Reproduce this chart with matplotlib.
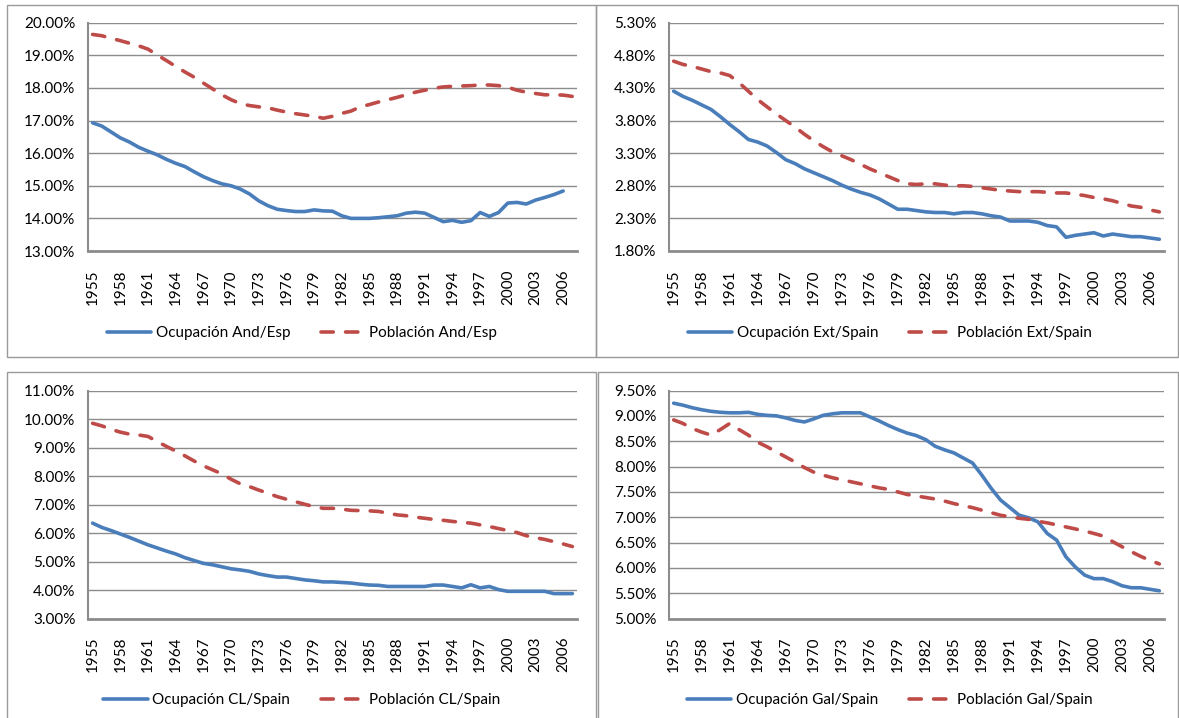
import numpy as np
import matplotlib.pyplot as plt
from matplotlib.patches import Rectangle
from matplotlib.ticker import FixedLocator, FuncFormatter

plt.rcParams['font.family'] = ['Lato', 'DejaVu Sans']

years = list(range(1955, 2008))

# Andalucía / España (%)
ocup_and = [16.93, 16.83, 16.65, 16.47, 16.34, 16.18, 16.06, 15.95, 15.81, 15.69,
            15.59, 15.43, 15.28, 15.16, 15.06, 15.00, 14.90, 14.75, 14.54, 14.39,
            14.28, 14.24, 14.21, 14.21, 14.26, 14.23, 14.22, 14.08, 14.00, 14.00,
            14.00, 14.02, 14.05, 14.08, 14.16, 14.19, 14.16, 14.03, 13.90, 13.94,
            13.88, 13.93, 14.18, 14.06, 14.18, 14.47, 14.49, 14.44, 14.56, 14.64,
            14.73, 14.84, np.nan]
pobl_and = [19.64, 19.60, 19.52, 19.45, 19.37, 19.29, 19.19, 19.01, 18.84, 18.66,
            18.49, 18.33, 18.15, 17.97, 17.79, 17.64, 17.52, 17.46, 17.42, 17.39,
            17.32, 17.26, 17.21, 17.17, 17.13, 17.07, 17.13, 17.22, 17.29, 17.42,
            17.49, 17.57, 17.64, 17.71, 17.79, 17.87, 17.93, 17.99, 18.03, 18.05,
            18.06, 18.07, 18.09, 18.09, 18.07, 18.02, 17.93, 17.87, 17.83, 17.79,
            17.79, 17.78, 17.74]

# Extremadura / Spain (%)
ocup_ext = [4.25, 4.17, 4.11, 4.04, 3.97, 3.86, 3.74, 3.63, 3.51, 3.47,
            3.41, 3.31, 3.20, 3.14, 3.06, 3.00, 2.94, 2.88, 2.81, 2.75,
            2.70, 2.66, 2.60, 2.52, 2.44, 2.44, 2.42, 2.40, 2.39, 2.39,
            2.37, 2.39, 2.39, 2.37, 2.34, 2.32, 2.26, 2.26, 2.26, 2.24,
            2.19, 2.17, 2.01, 2.04, 2.06, 2.08, 2.03, 2.06, 2.04, 2.02,
            2.02, 2.00, 1.98]
pobl_ext = [4.71, 4.66, 4.63, 4.59, 4.55, 4.53, 4.49, 4.38, 4.25, 4.12,
            4.01, 3.90, 3.80, 3.70, 3.59, 3.49, 3.40, 3.32, 3.26, 3.20,
            3.13, 3.06, 3.00, 2.94, 2.88, 2.83, 2.82, 2.83, 2.83, 2.81,
            2.80, 2.80, 2.79, 2.77, 2.75, 2.73, 2.72, 2.71, 2.71, 2.71,
            2.70, 2.69, 2.69, 2.67, 2.65, 2.62, 2.60, 2.57, 2.53, 2.49,
            2.47, 2.43, 2.40]

# Castilla y León / Spain (%)
ocup_cl = [6.35, 6.20, 6.09, 5.97, 5.85, 5.72, 5.59, 5.48, 5.37, 5.27,
           5.14, 5.04, 4.94, 4.89, 4.82, 4.75, 4.71, 4.66, 4.57, 4.51,
           4.46, 4.46, 4.41, 4.36, 4.33, 4.29, 4.29, 4.27, 4.25, 4.21,
           4.18, 4.17, 4.13, 4.13, 4.13, 4.13, 4.13, 4.18, 4.18, 4.13,
           4.08, 4.19, 4.08, 4.13, 4.02, 3.96, 3.96, 3.96, 3.96, 3.96,
           3.88, 3.88, 3.88]
pobl_cl = [9.85, 9.76, 9.64, 9.54, 9.47, 9.44, 9.39, 9.21, 9.04, 8.88,
           8.71, 8.53, 8.36, 8.22, 8.08, 7.89, 7.73, 7.63, 7.51, 7.40,
           7.28, 7.19, 7.10, 7.01, 6.93, 6.87, 6.87, 6.84, 6.80, 6.79,
           6.78, 6.76, 6.70, 6.64, 6.61, 6.56, 6.52, 6.48, 6.45, 6.41,
           6.38, 6.35, 6.29, 6.23, 6.16, 6.09, 6.02, 5.91, 5.84, 5.78,
           5.70, 5.62, 5.53]

# Galicia / Spain (%)
ocup_gal = [9.25, 9.21, 9.16, 9.12, 9.09, 9.07, 9.06, 9.06, 9.07, 9.03,
            9.01, 9.00, 8.96, 8.91, 8.88, 8.94, 9.01, 9.04, 9.06, 9.06,
            9.06, 8.98, 8.90, 8.81, 8.73, 8.66, 8.61, 8.53, 8.40, 8.33,
            8.27, 8.17, 8.07, 7.83, 7.57, 7.34, 7.19, 7.04, 6.99, 6.91,
            6.68, 6.55, 6.22, 6.02, 5.86, 5.79, 5.79, 5.73, 5.65, 5.61,
            5.61, 5.58, 5.55]
pobl_gal = [8.92, 8.85, 8.75, 8.68, 8.62, 8.73, 8.85, 8.73, 8.62, 8.48,
            8.39, 8.29, 8.19, 8.09, 7.98, 7.89, 7.83, 7.78, 7.74, 7.70,
            7.66, 7.62, 7.58, 7.55, 7.50, 7.45, 7.42, 7.39, 7.36, 7.32,
            7.27, 7.23, 7.19, 7.14, 7.09, 7.04, 7.01, 6.98, 6.96, 6.92,
            6.89, 6.85, 6.81, 6.77, 6.73, 6.68, 6.63, 6.52, 6.42, 6.32,
            6.23, 6.15, 6.08]

W, H = 1179, 718
BLUE = '#4A7EBB'
RED = '#BE4B48'
GRID = '#8C8C8C'

fig = plt.figure(figsize=(W / 100, H / 100), dpi=100)


def fig_rect(x0, y0, x1, y1):
    return [x0 / W, 1 - y1 / H, (x1 - x0) / W, (y1 - y0) / H]


# chart frames
for (x0, y0, x1, y1) in [(7, 5, 596, 357), (596, 5, 1178, 357),
                         (7, 372, 596, 725), (598, 372, 1178, 725)]:
    fig.add_artist(Rectangle((x0 / W, 1 - y1 / H), (x1 - x0) / W, (y1 - y0) / H,
                             transform=fig.transFigure, fill=False,
                             edgecolor='#9A9A9A', linewidth=1.0))

panels = [
    dict(area=(88, 22.7, 577, 251), ylim=(13, 20), step=1.0,
         occ=ocup_and, pop=pobl_and,
         labels=('Ocupación And/Esp', 'Población And/Esp'),
         legend=(302, 333)),
    dict(area=(669, 22.7, 1164, 251), ylim=(1.8, 5.3), step=0.5,
         occ=ocup_ext, pop=pobl_ext,
         labels=('Ocupación Ext/Spain', 'Población Ext/Spain'),
         legend=(890, 333)),
    dict(area=(88, 390.5, 577, 618.7), ylim=(3, 11), step=1.0,
         occ=ocup_cl, pop=pobl_cl,
         labels=('Ocupación CL/Spain', 'Población CL/Spain'),
         legend=(302, 700)),
    dict(area=(669, 390.5, 1164, 618.7), ylim=(5, 9.5), step=0.5,
         occ=ocup_gal, pop=pobl_gal,
         labels=('Ocupación Gal/Spain', 'Población Gal/Spain'),
         legend=(890, 700)),
]

x = np.arange(len(years))
FS = 11

for p in panels:
    ax = fig.add_axes(fig_rect(*p['area']))
    l1, = ax.plot(x, p['occ'], color=BLUE, lw=2.6, solid_capstyle='round',
                  solid_joinstyle='round')
    l2, = ax.plot(x, p['pop'], color=RED, lw=2.6, dashes=(3.4, 3.4),
                  dash_capstyle='round')
    lo, hi = p['ylim']
    ax.set_ylim(lo, hi)
    ax.set_xlim(-0.5, len(years) - 0.5)
    yt = np.round(np.arange(lo, hi + 1e-9, p['step']), 2)
    ax.yaxis.set_major_locator(FixedLocator(yt))
    ax.yaxis.set_major_formatter(FuncFormatter(lambda v, _: f'{v:.2f}%'))
    ax.grid(axis='y', color=GRID, lw=1.0)
    ax.set_axisbelow(True)
    ax.set_xticks(x[::3])
    ax.set_xticklabels([str(y) for y in years[::3]], rotation=90)
    ax.tick_params(axis='both', length=0, labelsize=FS, colors='black')
    ax.tick_params(axis='y', pad=9)
    ax.tick_params(axis='x', pad=13)
    for s in ('top', 'right'):
        ax.spines[s].set_visible(False)
    ax.spines['left'].set_color(GRID)
    ax.spines['left'].set_linewidth(1.5)
    ax.spines['bottom'].set_color(GRID)
    ax.spines['bottom'].set_linewidth(2.0)

    cx, cy = p['legend']
    ax.legend([l1, l2], p['labels'], loc='center', ncol=2, frameon=False,
              bbox_to_anchor=(cx / W, 1 - cy / H), bbox_transform=fig.transFigure,
              fontsize=FS, handlelength=2.9, handletextpad=0.3,
              columnspacing=2.0)

fig.savefig('out.png', dpi=100)
